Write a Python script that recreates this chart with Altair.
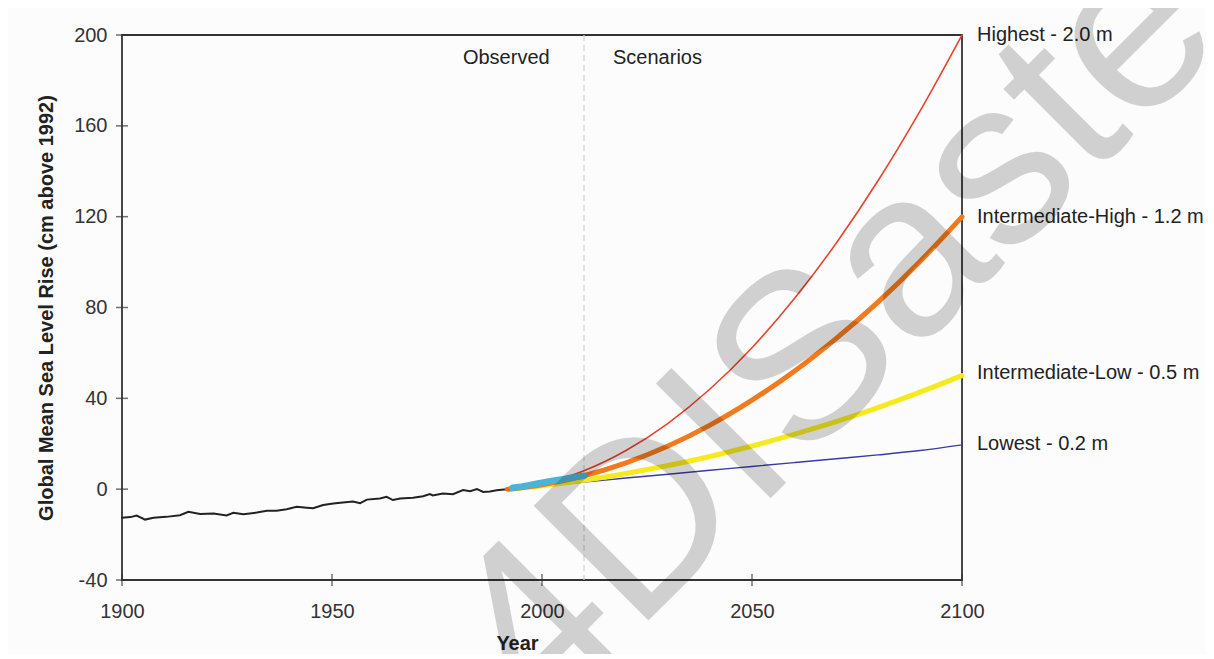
import altair as alt
import pandas as pd

FONT = "Liberation Sans"

# Observed tide-gauge record (cm above 1992)
obs_year = [1900, 1902, 1903.5, 1905.5, 1907.5, 1910.5, 1913.8, 1915.8, 1918.6, 1921.8,
            1924.9, 1926.5, 1928.9, 1932.1, 1934.5, 1936.8, 1939.2, 1941.6, 1944, 1945.5,
            1947.9, 1950.3, 1952.6, 1955, 1956.7, 1958.3, 1961.4, 1963, 1964.5, 1966.2,
            1969.3, 1971.7, 1973.3, 1974, 1976.4, 1978.8, 1981.2, 1982.9, 1984.5, 1986,
            1987.6, 1989.2, 1991.6, 1992.5]
obs_value = [-12.6, -12.3, -11.6, -13.4, -12.6, -12.2, -11.5, -10.0, -10.9, -10.7,
             -11.6, -10.4, -11.0, -10.3, -9.5, -9.5, -8.8, -7.8, -8.2, -8.4,
             -7.0, -6.3, -5.9, -5.4, -6.2, -4.6, -4.1, -3.4, -4.8, -4.1,
             -3.8, -3.1, -2.2, -2.8, -1.9, -2.2, -0.4, -0.9, 0.0, -1.2,
             -1.0, -0.5, 0.0, 0.2]

# Short orange piece at the end of the record
orange_year = [1991.6, 1992.9]
orange_value = [0.0, 0.3]

# Satellite altimetry record
sat_year = [1993, 1995, 1997, 1999, 2001, 2003, 2005, 2007, 2009, 2010]
sat_value = [0.6, 1.1, 1.8, 2.5, 3.2, 3.8, 4.4, 5.0, 5.6, 5.9]

# Scenarios
scen_year = [1992, 2000, 2010, 2020, 2030, 2040, 2050, 2060, 2070, 2080, 2090, 2100]
lowest = [0, 1.4, 3.1, 4.9, 6.6, 8.3, 10.0, 11.7, 13.4, 15.1, 17.0, 19.5]
int_low = [0, 1.5, 3.9, 6.9, 10.4, 14.4, 19.0, 24.1, 29.7, 35.9, 42.7, 50.0]
int_high = [0, 1.9, 5.9, 11.6, 19.0, 28.2, 39.2, 51.8, 66.3, 82.4, 100.3, 119.9]
highest = [0, 2.4, 8.1, 17.0, 29.0, 44.1, 62.3, 83.7, 108.2, 135.8, 166.5, 200.0]

scen_labels = ["Highest - 2.0 m", "Intermediate-High - 1.2 m",
               "Intermediate-Low - 0.5 m", "Lowest - 0.2 m"]
scen_label_year = [2100, 2100, 2100, 2100]
scen_label_value = [200, 120, 51, 20]

section_text = ["Observed", "Scenarios"]
section_year = [1991.5, 2027.5]
section_value = [190, 190]

divider_year = [2010]

x_ticks = [1900, 1950, 2000, 2050, 2100]
y_ticks = [-40, 0, 40, 80, 120, 160, 200]

wm_text = ["4DISaster"]
wm_year = [2088.3]
wm_value = [58.6]

xscale = alt.Scale(domain=[1900, 2100], nice=False)
yscale = alt.Scale(domain=[-40, 200], nice=False)

xaxis = alt.Axis(values=x_ticks, labelExpr="datum.value + ''", labelFlush=False,
                 labelFont=FONT, labelFontSize=20, labelColor="#333", ticks=False,
                 tickSize=0, domain=False, grid=False, labelPadding=21,
                 title="Year", titleFont=FONT, titleFontSize=20,
                 titleFontWeight="bold", titleColor="#222", titleX=395, titleY=69,
                 titleBaseline="alphabetic", titleAlign="center")
yaxis = alt.Axis(values=y_ticks, labelExpr="datum.value + ''", labelFont=FONT,
                 labelFontSize=20, labelColor="#333", ticks=False, tickSize=0,
                 domain=False, grid=False, labelPadding=15, labelFlush=False,
                 title="Global Mean Sea Level Rise (cm above 1992)", titleFont=FONT,
                 titleFontSize=20, titleFontWeight="bold", titleColor="#222",
                 titleX=-76, titleY=272.5, titleAngle=270, titleBaseline="middle",
                 titleAlign="center")

X = lambda: alt.X("year:Q", scale=xscale, axis=xaxis)
Y = lambda: alt.Y("value:Q", scale=yscale, axis=yaxis)

def line_layer(years, values, color, width, interp="linear"):
    df = pd.DataFrame({"year": years, "value": values})
    return alt.Chart(df).mark_line(color=color, strokeWidth=width, interpolate=interp,
                                   strokeCap="round").encode(x=X(), y=Y())

divider = alt.Chart(pd.DataFrame({"year": divider_year})).mark_rule(
    color="#cfcfcf", strokeWidth=1.2, strokeDash=[6, 4]).encode(x=X())

xtick_layer = alt.Chart(pd.DataFrame({"year": x_ticks})).mark_tick(
    orient="vertical", color="#333", thickness=1.5, size=12).encode(
    x=X(), y=alt.value(545))
ytick_layer = alt.Chart(pd.DataFrame({"value": y_ticks})).mark_tick(
    orient="horizontal", color="#333", thickness=1.5, size=12).encode(
    y=Y(), x=alt.value(0))

layers = [
    divider,
    line_layer(scen_year, lowest, "#3b3ba3", 1.4, "monotone"),
    line_layer(scen_year, int_low, "#f6ea1e", 5, "monotone"),
    line_layer(scen_year, int_high, "#f27a1c", 5, "monotone"),
    line_layer(scen_year, highest, "#e8432e", 1.6, "monotone"),
    line_layer(obs_year, obs_value, "#222222", 2),
    line_layer(orange_year, orange_value, "#f06a1c", 4),
    line_layer(sat_year, sat_value, "#4bb4d6", 6.5),
    xtick_layer,
    ytick_layer,
]

labels = alt.Chart(pd.DataFrame({"year": scen_label_year, "value": scen_label_value,
                                 "t": scen_labels})).mark_text(
    align="left", baseline="middle", dx=15, font=FONT, fontSize=20, color="#222").encode(
    x=X(), y=Y(), text="t:N")

sections = alt.Chart(pd.DataFrame({"year": section_year, "value": section_value,
                                   "t": section_text})).mark_text(
    align="center", baseline="middle", font=FONT, fontSize=20, color="#222").encode(
    x=X(), y=Y(), text="t:N")

watermark = alt.Chart(pd.DataFrame({"year": wm_year, "value": wm_value,
                                    "t": wm_text})).mark_text(
    align="center", baseline="alphabetic", font=FONT, fontSize=236, angle=315,
    color="#000000", opacity=0.17).encode(x=X(), y=Y(), text="t:N")

chart = alt.layer(*layers, labels, sections, watermark).properties(
    width=840, height=545,
    autosize=alt.AutoSizeParams(type="none"),
    padding={"left": 114, "top": 27, "right": 244, "bottom": 74},
    background="#fcfcfc",
).configure_view(stroke="#333", strokeWidth=1.8)

chart.save("out.html", embed_options={"renderer": "svg", "actions": False})
